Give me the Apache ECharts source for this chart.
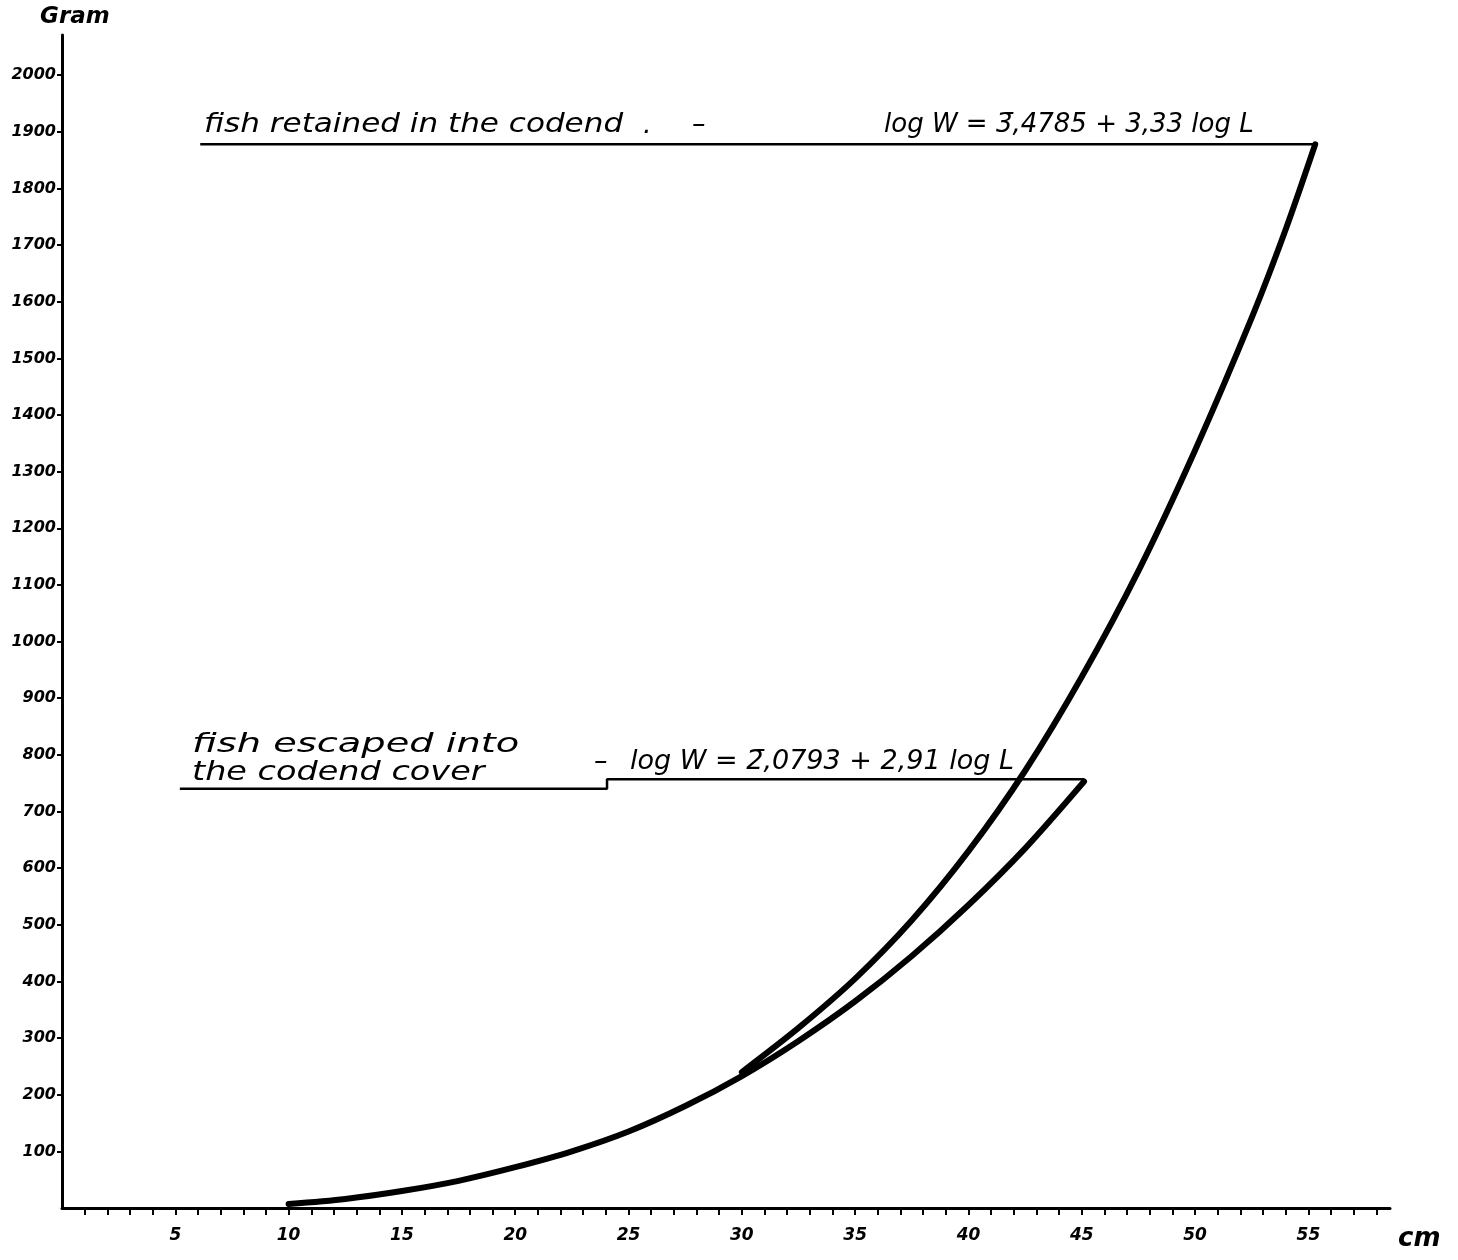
<!DOCTYPE html>
<html>
<head>
<meta charset="utf-8">
<script src="https://cdn.jsdelivr.net/npm/echarts@6/dist/echarts.min.js"></script>
<style>
html,body{margin:0;padding:0;background:#fff;}
#c{width:1458px;height:1260px;}
</style>
</head>
<body>
<div id="c"></div>
<script>
// ---- data ----
var retainedL = [30.0, 32.5, 35.0, 37.5, 40.0, 42.5, 45.0, 47.5, 50.0, 52.5, 54.0, 55.3];
var retainedW = [240, 318, 405, 508, 630, 772, 938, 1125, 1338, 1572, 1728, 1878];
var escapedL = [10.0, 12.5, 15.0, 17.5, 20.0, 22.5, 25.0, 27.5, 30.0, 32.5, 35.0, 37.5, 40.0, 42.5, 45.1];
var escapedW = [7, 16, 30, 48, 72, 100, 135, 180, 233, 295, 365, 445, 535, 635, 753];
// leader lines of the two labels
var retainedLeaderL = [6.1, 55.3];
var retainedLeaderW = [1878, 1878];
var escapedLeaderL = [5.2, 24.05, 24.05, 45.1];
var escapedLeaderW = [740, 740, 757, 757];
// tick labels
var xTickLabels = [5, 10, 15, 20, 25, 30, 35, 40, 45, 50, 55];
var xMinorTicks = [];
for (var i = 1; i <= 58; i++) xMinorTicks.push(i);
var yTickLabels = [100, 200, 300, 400, 500, 600, 700, 800, 900, 1000, 1100, 1200, 1300, 1400, 1500, 1600, 1700, 1800, 1900, 2000];
// texts
var yName = 'Gram';
var xName = 'cm';
var retainedText = 'fish retained in the codend';
var retainedEq = 'log W = 3\u0304,4785 + 3,33 log L';
var escapedText1 = 'fish escaped into';
var escapedText2 = 'the codend cover';
var escapedEq = 'log W = 2\u0304,0793 + 2,91 log L';

function pairs(xs, ys) { return xs.map(function (v, k) { return [v, ys[k]]; }); }

var chart = echarts.init(document.getElementById('c'), null, {renderer: 'canvas'});
var labelFont = {color: '#000', fontFamily: 'DejaVu Sans', fontStyle: 'italic', fontWeight: 'bold', fontSize: 16};
function hand(size, extra) {
  return Object.assign({fill: '#000', fontFamily: 'DejaVu Sans', fontStyle: 'italic', fontSize: size}, extra || {});
}

chart.setOption({
  backgroundColor: '#fff',
  animation: false,
  grid: {left: 62, right: 68, top: 35, bottom: 52, containLabel: false},
  xAxis: {
    type: 'value', min: 0, max: 58.6, interval: 5,
    splitLine: {show: false},
    axisLine: {show: true, lineStyle: {color: '#000', width: 3}},
    axisTick: {show: true, customValues: xMinorTicks, length: 7, lineStyle: {color: '#000', width: 2}},
    axisLabel: Object.assign({customValues: xTickLabels, margin: 19, formatter: function (v) { return String(v); }}, labelFont, {fontSize: 17})
  },
  yAxis: {
    type: 'value', min: 0, max: 2071, interval: 100,
    splitLine: {show: false},
    axisLine: {show: true, lineStyle: {color: '#000', width: 3}},
    axisTick: {show: true, customValues: yTickLabels, length: 5, lineStyle: {color: '#000', width: 2}},
    axisLabel: Object.assign({customValues: yTickLabels, margin: 6, formatter: function (v) { return String(v); }}, labelFont)
  },
  series: [
    {type: 'line', data: pairs(retainedL, retainedW), smooth: 0.3, showSymbol: false,
     lineStyle: {color: '#000', width: 6, cap: 'round'}},
    {type: 'line', data: pairs(escapedL, escapedW), smooth: 0.3, showSymbol: false,
     lineStyle: {color: '#000', width: 6, cap: 'round'}},
    {type: 'line', data: pairs(retainedLeaderL, retainedLeaderW), showSymbol: false,
     lineStyle: {color: '#000', width: 2.5}},
    {type: 'line', data: pairs(escapedLeaderL, escapedLeaderW), showSymbol: false,
     lineStyle: {color: '#000', width: 2.5}}
  ],
  graphic: [
    {type: 'text', left: 40, top: 6, style: {text: yName, fill: '#000', fontFamily: 'DejaVu Sans', fontStyle: 'italic', fontWeight: 'bold', fontSize: 23}},
    {type: 'text', left: 1398, top: 1226, style: {text: xName, fill: '#000', fontFamily: 'DejaVu Sans', fontStyle: 'italic', fontWeight: 'bold', fontSize: 26}},
    {type: 'text', x: 204, y: 111, scaleX: 1.15, style: hand(27, {text: retainedText})},
    {type: 'text', x: 643, y: 112, style: hand(27, {text: '.'})},
    {type: 'text', x: 692, y: 111, style: hand(27, {text: '\u2013'})},
    {type: 'text', x: 884, y: 112, style: hand(26, {text: retainedEq})},
    {type: 'text', x: 192, y: 731, scaleX: 1.42, style: hand(27, {text: escapedText1})},
    {type: 'text', x: 192, y: 759, scaleX: 1.24, style: hand(27, {text: escapedText2})},
    {type: 'text', x: 594, y: 748, style: hand(27, {text: '\u2013'})},
    {type: 'text', x: 630, y: 748, style: hand(27, {text: escapedEq})}
  ]
});
</script>
</body>
</html>
